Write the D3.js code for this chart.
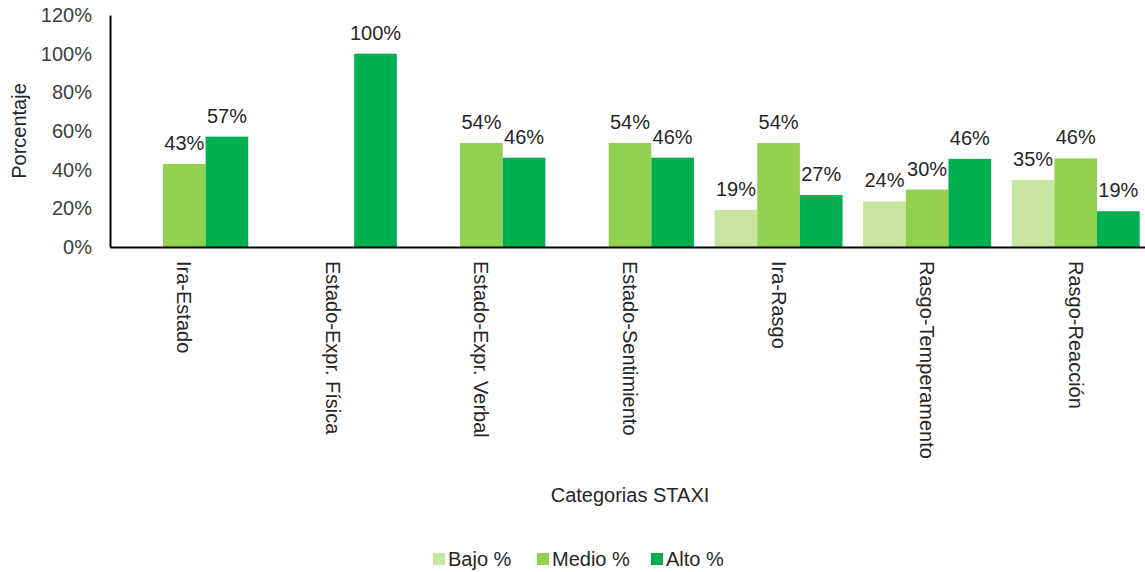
<!DOCTYPE html>
<html>
<head>
<meta charset="utf-8">
<script src="https://cdn.jsdelivr.net/npm/d3@7"></script>
<style>
  body { margin: 0; background: #fff; }
  text { font-family: Arial, "Liberation Sans", sans-serif; }
</style>
</head>
<body>
<script>
'use strict';

// categories and series (percent)
const categories = ["Ira-Estado", "Estado-Expr. Física", "Estado-Expr. Verbal",
  "Estado-Sentimiento", "Ira-Rasgo", "Rasgo-Temperamento", "Rasgo-Reacción"];
const seriesNames = ["Bajo %", "Medio %", "Alto %"];
const bajo = [0, 0, 0, 0, 19.2, 23.6, 34.6];
const medio = [42.9, 0, 53.8, 53.8, 53.8, 29.7, 45.8];
const alto = [57.1, 100, 46.2, 46.2, 26.9, 45.6, 18.5];
const yTicks = [0, 20, 40, 60, 80, 100, 120];
const colors = ["#c5e5a0", "#92d050", "#00b050"];

const width = 1145, height = 572;
const plot = { left: 110, right: 1150, top: 15, bottom: 247 };

const svg = d3.select('body').append('svg')
  .attr('width', width)
  .attr('height', height);

const series = [bajo, medio, alto];

// scales
const xScale = d3.scaleBand()
  .domain(categories)
  .range([plot.left, plot.right])
  .paddingInner(0.139)
  .paddingOuter(0.0695);

const xInner = d3.scaleBand()
  .domain(seriesNames)
  .range([0, xScale.bandwidth()]);

const yScale = d3.scaleLinear()
  .domain([0, 120])
  .range([plot.bottom, plot.top]);

// bars
const groups = svg.selectAll('.cat')
  .data(categories)
  .enter().append('g')
  .attr('class', 'cat')
  .attr('transform', d => 'translate(' + xScale(d) + ',0)');

groups.each(function(cat, ci) {
  const g = d3.select(this);
  seriesNames.forEach((s, si) => {
    const v = series[si][ci];
    if (v <= 0) return;
    g.append('rect')
      .attr('x', xInner(s))
      .attr('width', xInner.bandwidth())
      .attr('y', yScale(v))
      .attr('height', plot.bottom - yScale(v))
      .style('fill', colors[si]);
    g.append('text')
      .attr('x', xInner(s) + xInner.bandwidth() / 2)
      .attr('y', yScale(v) - 14)
      .attr('text-anchor', 'middle')
      .style('font-size', '20px')
      .style('fill', '#262626')
      .text(Math.round(v) + '%');
  });
});

// y axis
const yAxis = d3.axisLeft(yScale)
  .tickValues(yTicks)
  .tickSize(0)
  .tickPadding(18)
  .tickFormat(d => d + '%');
const yg = svg.append('g')
  .attr('transform', 'translate(' + plot.left + ',0)')
  .call(yAxis);
yg.select('.domain').attr('stroke', '#000').attr('stroke-width', 2);
yg.selectAll('text')
  .style('font-size', '20px')
  .style('fill', '#404040');

// x axis
const xAxis = d3.axisBottom(xScale).tickSize(0).tickPadding(0);
const xg = svg.append('g')
  .attr('transform', 'translate(0,' + plot.bottom + ')')
  .call(xAxis);
xg.select('.domain').attr('stroke', '#000').attr('stroke-width', 2);
xg.selectAll('text')
  .attr('transform', 'rotate(90)')
  .attr('x', 14)
  .attr('y', 0)
  .attr('dy', '0.35em')
  .style('text-anchor', 'start')
  .style('font-size', '20px')
  .style('fill', '#262626');

// axis titles
svg.append('text')
  .attr('transform', 'translate(26,' + ((plot.top + plot.bottom) / 2) + ') rotate(-90)')
  .attr('text-anchor', 'middle')
  .style('font-size', '20px')
  .style('fill', '#262626')
  .text('Porcentaje');

svg.append('text')
  .attr('x', (plot.left + plot.right) / 2)
  .attr('y', 502)
  .attr('text-anchor', 'middle')
  .style('font-size', '20px')
  .style('fill', '#262626')
  .text('Categorias STAXI');

// legend
const legendX = [433, 537, 651];
const legend = svg.selectAll('.legend')
  .data(seriesNames)
  .enter().append('g')
  .attr('class', 'legend')
  .attr('transform', (d, i) => 'translate(' + legendX[i] + ',553)');
legend.append('rect')
  .attr('width', 12)
  .attr('height', 12)
  .style('fill', (d, i) => colors[i]);
legend.append('text')
  .attr('x', 15)
  .attr('y', 6)
  .attr('dy', '0.35em')
  .style('font-size', '20px')
  .style('fill', '#262626')
  .text(d => d);
</script>
</body>
</html>
